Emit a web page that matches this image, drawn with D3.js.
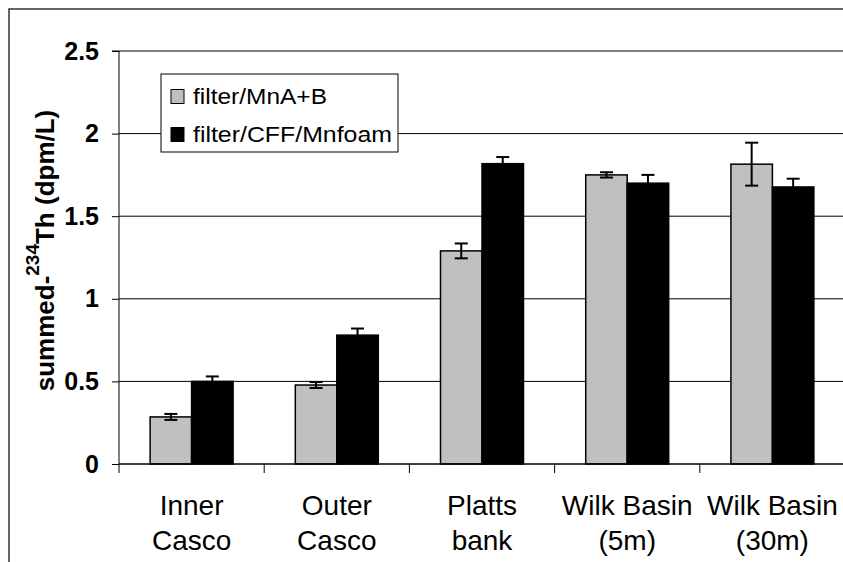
<!DOCTYPE html>
<html>
<head>
<meta charset="utf-8">
<script src="https://cdn.jsdelivr.net/npm/d3@7"></script>
<style>
  html, body { margin: 0; padding: 0; background: #fff; }
  svg { display: block; font-family: Arial, "Liberation Sans", sans-serif; }
</style>
</head>
<body>
<svg id="chart" width="843" height="562"></svg>
<script>
// Sampling stations
const categories = [
  ["Inner", "Casco"],
  ["Outer", "Casco"],
  ["Platts", "bank"],
  ["Wilk Basin", "(5m)"],
  ["Wilk Basin", "(30m)"]
];
// Series names
const seriesNames = ["filter/MnA+B", "filter/CFF/Mnfoam"];
// Summed 234Th (dpm/L) and their uncertainties
const mnabValues = [0.285, 0.478, 1.29, 1.75, 1.815];
const mnabErrors = [0.018, 0.018, 0.045, 0.016, 0.13];
const cffValues  = [0.50, 0.78, 1.818, 1.70, 1.677];
const cffErrors  = [0.03, 0.04, 0.04, 0.05, 0.05];
// Y tick values and labels
const yTicks = [0, 0.5, 1, 1.5, 2, 2.5];
const yTickLabels = ["0", "0.5", "1", "1.5", "2", "2.5"];

const series = [
  { name: seriesNames[0], values: mnabValues, errors: mnabErrors, fill: "#c0c0c0" },
  { name: seriesNames[1], values: cffValues,  errors: cffErrors,  fill: "#000000" }
];

const svg = d3.select("#chart");
const plotLeft = 119, plotRight = 845, plotTop = 51, plotBottom = 464;

// Outer chart frame
svg.append("rect")
  .attr("x", 9).attr("y", 9).attr("width", 900).attr("height", 600)
  .attr("fill", "#fff").attr("stroke", "#333").attr("stroke-width", 1.5);

const catIndex = categories.map((d, i) => i);
const x = d3.scaleBand().domain(catIndex).range([plotLeft, plotRight]).paddingInner(0).paddingOuter(0);
const y = d3.scaleLinear().domain([0, 2.5]).range([plotBottom, plotTop]);

// Horizontal gridlines
svg.append("g").selectAll("line")
  .data(yTicks.filter(d => d > 0))
  .join("line")
  .attr("x1", plotLeft).attr("x2", plotRight)
  .attr("y1", d => y(d)).attr("y2", d => y(d))
  .attr("stroke", "#000").attr("stroke-width", 1);

// Grouped bars: two bars per station with a 150% gap
const barW = x.bandwidth() / 3.5;
const gap = barW * 0.75;

series.forEach((s, si) => {
  const g = svg.append("g");
  g.selectAll("rect")
    .data(s.values)
    .join("rect")
    .attr("x", (d, i) => x(i) + gap + si * barW)
    .attr("y", d => y(d))
    .attr("width", barW)
    .attr("height", d => y(0) - y(d))
    .attr("fill", s.fill)
    .attr("stroke", "#000")
    .attr("stroke-width", 1.5);
});

// Error bars
series.forEach((s, si) => {
  const g = svg.append("g").attr("stroke", "#000").attr("stroke-width", 2);
  s.values.forEach((v, i) => {
    const cx = x(i) + gap + si * barW + barW / 2;
    const e = s.errors[i];
    g.append("line").attr("x1", cx).attr("x2", cx).attr("y1", y(v + e)).attr("y2", y(v - e));
    g.append("line").attr("x1", cx - 6.5).attr("x2", cx + 6.5).attr("y1", y(v + e)).attr("y2", y(v + e));
    g.append("line").attr("x1", cx - 6.5).attr("x2", cx + 6.5).attr("y1", y(v - e)).attr("y2", y(v - e));
  });
});

// Y axis
const yAxis = svg.append("g")
  .attr("transform", `translate(${plotLeft},0)`)
  .call(d3.axisLeft(y).tickValues(yTicks).tickSize(7).tickPadding(13)
    .tickFormat((d, i) => yTickLabels[i]));
yAxis.select(".domain").attr("stroke", "#000").attr("d", `M-7,${plotTop}H0V${plotBottom}`);
yAxis.selectAll(".tick line").attr("stroke", "#000");
yAxis.selectAll(".tick text")
  .attr("font-size", 25).attr("font-weight", "bold").attr("fill", "#000")
  .attr("font-family", "Arial, 'Liberation Sans', sans-serif");

// X axis with ticks between categories
const xg = svg.append("g");
xg.append("line").attr("x1", plotLeft).attr("x2", plotRight).attr("y1", plotBottom).attr("y2", plotBottom)
  .attr("stroke", "#000").attr("stroke-width", 1.5);
xg.selectAll("line.tick")
  .data(catIndex.concat([catIndex.length]))
  .join("line").attr("class", "tick")
  .attr("x1", d => plotLeft + d * x.step()).attr("x2", d => plotLeft + d * x.step())
  .attr("y1", plotBottom).attr("y2", plotBottom + 9)
  .attr("stroke", "#000").attr("stroke-width", 1);

// Category labels on two lines
const lbl = xg.selectAll("text.cat")
  .data(categories)
  .join("text").attr("class", "cat")
  .attr("text-anchor", "middle")
  .attr("font-size", 28)
  .attr("fill", "#000");
lbl.append("tspan").attr("x", (d, i) => x(i) + x.bandwidth() / 2).attr("y", 515).text(d => d[0]);
lbl.append("tspan").attr("x", (d, i) => x(i) + x.bandwidth() / 2).attr("y", 550).text(d => d[1]);

// Y axis title
const yt = svg.append("text")
  .attr("transform", "translate(54,250.5) rotate(-90)")
  .attr("text-anchor", "middle")
  .attr("font-size", 26).attr("font-weight", "bold").attr("fill", "#000");
yt.append("tspan").text("summed-");
yt.append("tspan").attr("font-size", 19).attr("dy", -15).text("234");
yt.append("tspan").attr("dy", 15).text("Th (dpm/L)");

// Legend
const lg = svg.append("g");
lg.append("rect").attr("x", 161).attr("y", 74).attr("width", 237).attr("height", 78)
  .attr("fill", "#fff").attr("stroke", "#000").attr("stroke-width", 1);
const legendRows = [104, 142];
series.forEach((s, si) => {
  lg.append("rect").attr("x", 171).attr("y", legendRows[si] - 14.5).attr("width", 13).attr("height", 14)
    .attr("fill", s.fill).attr("stroke", "#000").attr("stroke-width", 1);
  lg.append("text").attr("x", 193).attr("y", legendRows[si])
    .attr("font-size", 22).attr("fill", "#000")
    .attr("textLength", si === 0 ? 134 : 199).attr("lengthAdjust", "spacingAndGlyphs")
    .text(s.name);
});
</script>
</body>
</html>
